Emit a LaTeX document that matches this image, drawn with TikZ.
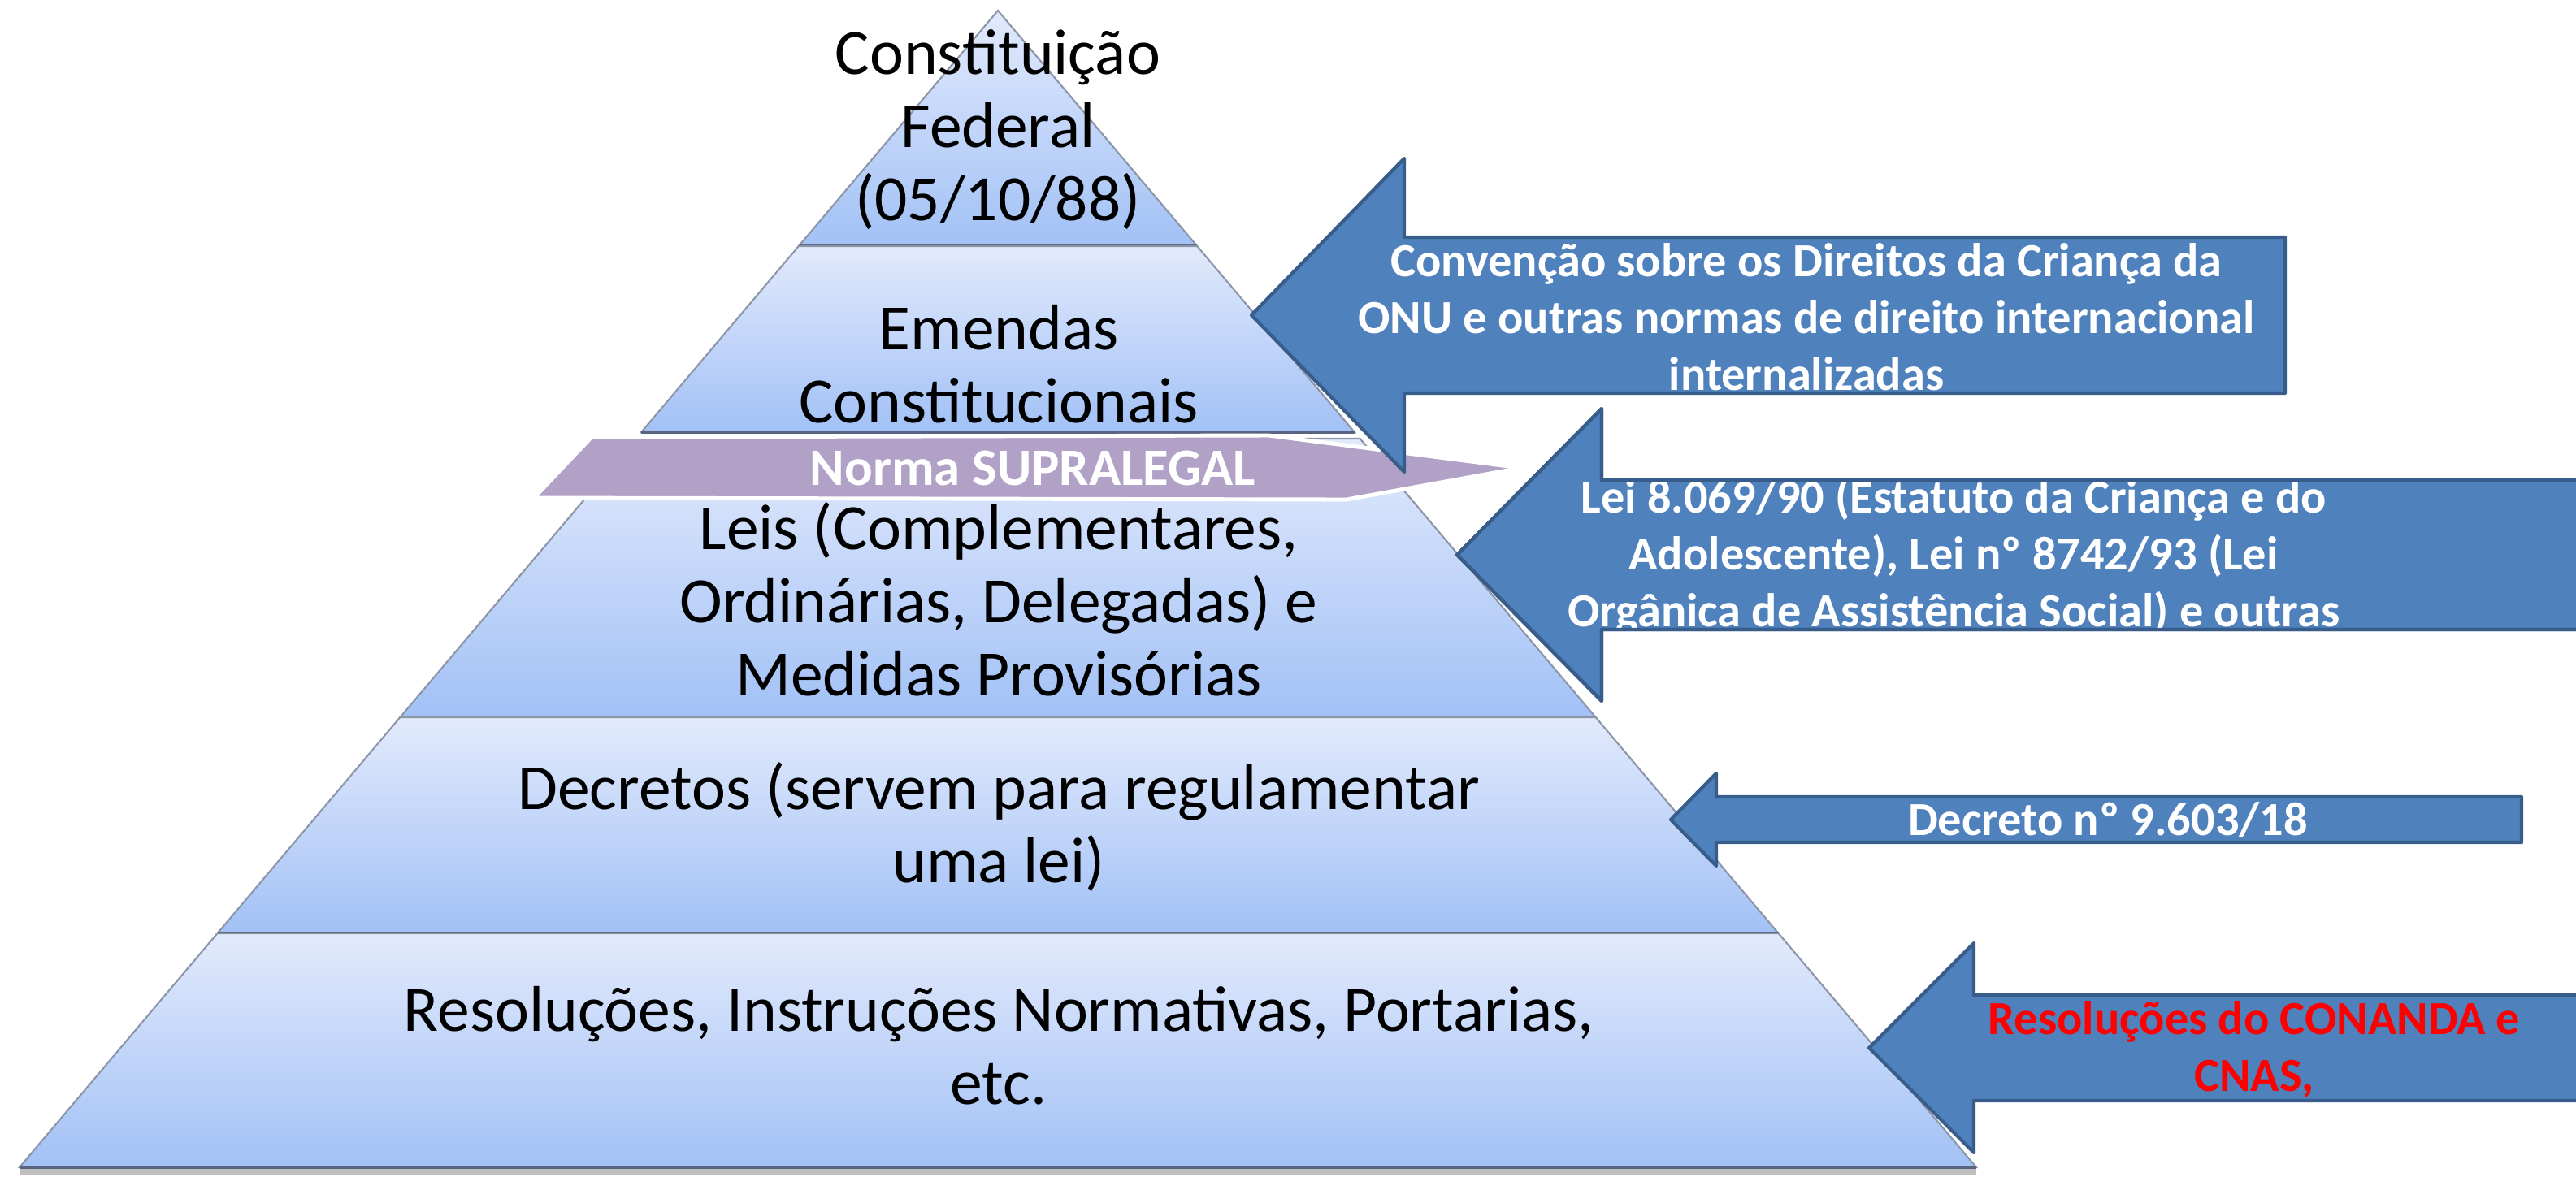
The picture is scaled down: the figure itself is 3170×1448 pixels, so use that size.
\documentclass[tikz,border=0pt]{standalone}
\usepackage{fontspec}
\setmainfont{Carlito}
\definecolor{laytop}{RGB}{226,234,252}
\definecolor{laybot}{RGB}{162,193,246}
\definecolor{layside}{RGB}{140,150,168}
\definecolor{layedge}{RGB}{88,100,128}
\definecolor{arrfill}{RGB}{79,129,189}
\definecolor{arredge}{RGB}{56,93,138}
\definecolor{supra}{RGB}{178,161,199}
\newcommand\pyrx[2]{{1228#10.8455*(#2-13)}}
\newcommand\pyrlayer[2]{%
  \path[layer] (\pyrx{-}{#1},#1) -- (\pyrx{+}{#1},#1) -- (\pyrx{+}{#2},#2) -- (\pyrx{-}{#2},#2) -- cycle;
  \draw[layeredge] (\pyrx{-}{#2},#2) -- (\pyrx{+}{#2},#2);}
\newcommand\leftblock[6]{(#1,#2) -- (#3,#2-#4) -- (#3,#2-#5) -- (#6,#2-#5) -- (#6,#2+#5) -- (#3,#2+#5) -- (#3,#2+#4) -- cycle}
\begin{document}
\begin{tikzpicture}[x=0.01cm, y=-0.01cm,
    layer/.style={top color=laytop, bottom color=laybot, draw=layside, line width=0.6pt},
    layeredge/.style={draw=layedge, line width=1.1pt},
    blockarrow/.style={fill=arrfill, draw=arredge, line width=1.2pt, line join=round},
    pyrtext/.style={align=center, inner sep=0pt, font=\fontsize{22.6}{25.6}\selectfont},
    arrtext/.style={align=center, inner sep=0pt, text=white, font=\fontsize{16.6}{19.9}\selectfont\bfseries}]
    \useasboundingbox (0,0) rectangle (3170,1448);
    \clip (0,0) rectangle (3170,1448);

    % pyramid
    \fill[black!25] (\pyrx{-}{1437},1437) rectangle (\pyrx{+}{1437},1447);
    \pyrlayer{13}{303}
    \pyrlayer{303}{532}
    \pyrlayer{540}{883}
    \pyrlayer{883}{1149}
    \pyrlayer{1149}{1437}

    \node[pyrtext] (const) at (1228,160) {Constituição\\Federal\\(05/10/88)};
    \node[pyrtext] (emend) at (1229,448) {Emendas\\Constitucionais};
    \node[pyrtext] (leis) at (1229,738) {Leis (Complementares,\\Ordinárias, Delegadas) e\\Medidas Provisórias};
    \node[pyrtext] (decr) at (1229,1018) {Decretos (servem para regulamentar\\uma lei)};
    \node[pyrtext] (resol) at (1229,1287) {Resoluções, Instruções Normativas, Portarias,\\etc.};

    % supralegal band
    \draw[fill=supra, draw=white, line width=1.4pt, line join=round]
        (657,613) -- (728,538) -- (1561,536) -- (1872,576) -- (1657,615) -- cycle;
    \node[arrtext, font=\fontsize{18.4}{20}\selectfont\bfseries] (supra) at (1271,577) {Norma SUPRALEGAL};

    % block arrows
    \draw[blockarrow] \leftblock{1540}{388}{1728}{193}{96}{2812};
    \node[arrtext] (conv) at (2223,390) {Convenção sobre os Direitos da Criança da\\ONU e outras normas de direito internacional\\internalizadas};

    \draw[blockarrow] \leftblock{1793}{683}{1971}{180}{92}{3300};
    \begin{scope}
        \clip \leftblock{1793}{683}{1971}{180}{92}{3300};
        \node[arrtext] (estat) at (2404,685) {Lei 8.069/90 (Estatuto da Criança e do\\Adolescente), Lei nº 8742/93 (Lei\\Orgânica de Assistência Social) e outras};
    \end{scope}
    \draw[blockarrow, fill=none] \leftblock{1793}{683}{1971}{180}{92}{3300};

    \draw[blockarrow] \leftblock{2056}{1009}{2112}{57}{28}{3103};
    \node[arrtext] (decreto) at (2594,1009) {Decreto nº 9.603/18};

    \draw[blockarrow] \leftblock{2300}{1290}{2429}{129}{65}{3300};
    \node[arrtext, text=red] (conanda) at (2774,1292) {Resoluções do CONANDA e\\CNAS,};
\end{tikzpicture}
\end{document}
